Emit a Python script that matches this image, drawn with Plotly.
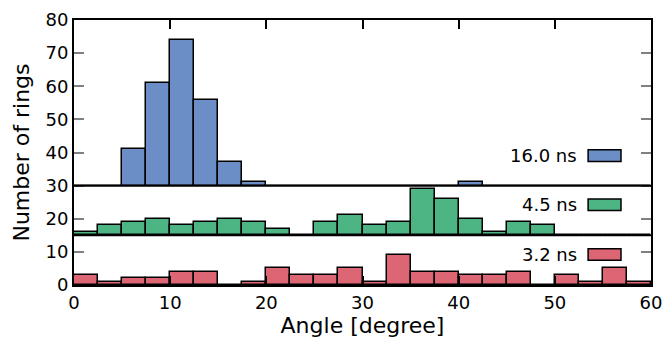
import plotly.graph_objects as go

# Histogram bins (2.5 degree wide), left edges 0..57.5
bin_width = 2.5
bin_centers = [1.25 + 2.5 * i for i in range(24)]

# Counts per bin for each time
ns16 = [0, 0, 11, 31, 44, 26, 7, 1, 0, 0, 0, 0, 0, 0, 0, 0, 1, 0, 0, 0, 0, 0, 0, 0]
ns45 = [1, 3, 4, 5, 3, 4, 5, 4, 2, 0, 4, 6, 3, 4, 14, 11, 5, 1, 4, 3, 0, 0, 0, 0]
ns32 = [3, 1, 2, 2, 4, 4, 0, 1, 5, 3, 3, 5, 1, 9, 4, 4, 3, 3, 4, 0, 3, 1, 5, 1]

series_names = ["16.0 ns", "4.5 ns", "3.2 ns"]
series_values = [ns16, ns45, ns32]
series_offsets = [30, 15, 0]
series_colors = ["#6C8EC6", "#4CB583", "#DC6673"]

x_ticks = [0, 10, 20, 30, 40, 50, 60]
y_ticks = [0, 10, 20, 30, 40, 50, 60, 70, 80]

FONT = "DejaVu Sans"

fig = go.Figure()
for name, vals, off, col in zip(series_names, series_values, series_offsets, series_colors):
    fig.add_trace(go.Bar(
        x=bin_centers, y=vals, base=[off] * len(vals), width=bin_width,
        marker=dict(color=col, line=dict(color="black", width=1.5)),
        name=name, showlegend=False,
    ))

# panel separators
for off in series_offsets[:2]:
    fig.add_shape(type="line", xref="paper", x0=0, x1=1, yref="y", y0=off, y1=off,
                  line=dict(color="black", width=2), layer="above")

# legend entries (text + box), one per panel
legend_y = [0.488, 0.303, 0.115]
for name, col, ly in zip(series_names, series_colors, legend_y):
    fig.add_annotation(text=name, xref="paper", yref="paper", x=0.876, y=ly,
                       xanchor="right", yanchor="middle", showarrow=False,
                       font=dict(family=FONT, size=18, color="black"))
    fig.add_shape(type="rect", xref="paper", yref="paper",
                  x0=0.891, x1=0.948, y0=ly - 0.022, y1=ly + 0.022,
                  fillcolor=col, line=dict(color="black", width=1.5))

fig.update_layout(
    width=667, height=340,
    margin=dict(l=74, r=16, t=20, b=55),
    plot_bgcolor="white", paper_bgcolor="white",
    bargap=0, barmode="overlay",
    font=dict(family=FONT, size=18, color="black"),
    xaxis=dict(range=[0, 60], tickvals=x_ticks, ticks="inside", ticklen=9,
               tickwidth=1.5, tickcolor="black", showline=True, linecolor="black",
               linewidth=2, mirror="ticks", showgrid=False, zeroline=False,
               automargin=False,
               title=dict(text="Angle [degree]", standoff=6)),
    yaxis=dict(range=[0, 80], tickvals=y_ticks, ticks="inside", ticklen=10,
               tickwidth=1.5, tickcolor="#808080", showline=True, linecolor="black",
               linewidth=2, mirror="ticks", showgrid=False, zeroline=False,
               automargin=False,
               title=dict(text="Number of rings", standoff=10)),
)

fig.write_html("out.html", config={"displayModeBar": False},
               post_script="document.body.style.margin='0';document.body.style.overflow='hidden';")
